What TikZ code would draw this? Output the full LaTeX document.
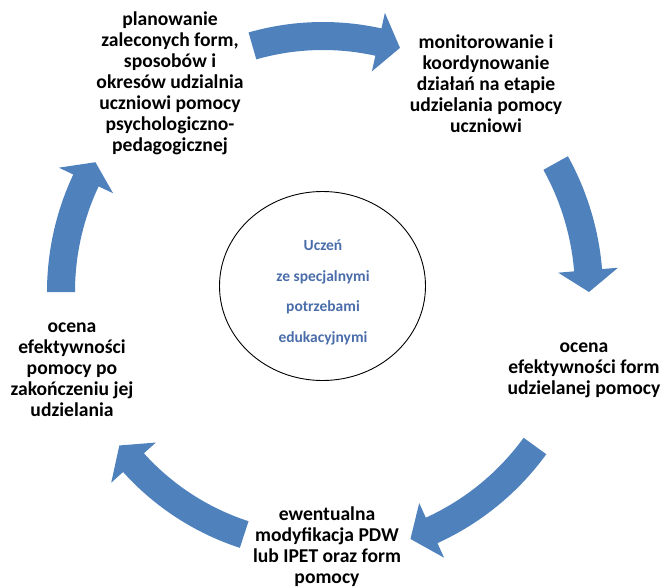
\documentclass[tikz,border=0pt]{standalone}
\usepackage{fontspec}
\setmainfont{Carlito}
\usetikzlibrary{shapes.geometric}
\definecolor{arrowblue}{HTML}{4F81BD}
\definecolor{textblue}{HTML}{4A6DAA}
\newcommand{\cycarrow}[4]{%
  \pgfmathsetmacro\cyRo{#4+14}%
  \pgfmathsetmacro\cyRi{#4-14}%
  \pgfmathsetmacro\cyHo{#4+30}%
  \pgfmathsetmacro\cyHi{#4-30}%
  \fill[cyc] (#1:\cyRo) arc[start angle=#1, end angle=#2, radius=\cyRo]
    -- (#2:\cyHo) -- (#3:#4) -- (#2:\cyHi) -- (#2:\cyRi)
    arc[start angle=#2, end angle=#1, radius=\cyRi] -- cycle;}
\begin{document}
\begin{tikzpicture}[x=1pt,y=-1pt,
  cyc/.style={fill=arrowblue, draw=none},
  lbl/.style={font=\bfseries\fontsize{19.6}{21}\selectfont, align=center, text=black, inner sep=0pt},
  ctr/.style={font=\bfseries\fontsize{15.5}{17}\selectfont, text=textblue, inner sep=0pt}]
\useasboundingbox (0,0) rectangle (662,587);
\clip (0,0) rectangle (662,587);
\begin{scope}[shift={(323,292)}]
  \cycarrow{-106}{-77.5}{-72.5}{256}
  \cycarrow{-29}{-4.7}{0}{266}
  \cycarrow{36}{65.5}{70.5}{262}
  \cycarrow{108}{138}{143}{255}
  \cycarrow{180}{205.2}{209.7}{262}
\end{scope}
\node[draw, line width=0.9pt, ellipse, minimum width=206pt, minimum height=189pt, inner sep=0pt] (ucz) at (322.5,286) {};
\node[ctr] (t1) at (323,245) {Uczeń};
\node[ctr] (t2) at (323,277) {ze specjalnymi};
\node[ctr] (t3) at (323,307) {potrzebami};
\node[ctr] (t4) at (323,338) {edukacyjnymi};
\node[lbl] (plan) at (170,83) {planowanie\\zaleconych form,\\sposobów i\\okresów udzialnia\\uczniowi pomocy\\psychologiczno-\\pedagogicznej};
\node[lbl] (monit) at (486,83.5) {monitorowanie i\\koordynowanie\\działań na etapie\\udzielania pomocy\\uczniowi};
\node[lbl] (ocf) at (584,370) {ocena\\efektywności form\\udzielanej pomocy};
\node[lbl] (mod) at (327,547) {ewentualna\\modyfikacja PDW\\lub IPET oraz form\\pomocy};
\node[lbl] (ocp) at (72,370) {ocena\\efektywności\\pomocy po\\zakończeniu jej\\udzielania};
\end{tikzpicture}
\end{document}
